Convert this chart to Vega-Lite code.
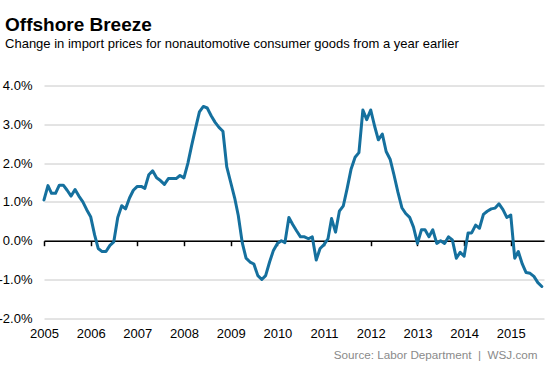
{
  "$schema": "https://vega.github.io/schema/vega-lite/v6.json",
  "width": 500,
  "height": 232.8,
  "autosize": {"type": "none"},
  "padding": {"left": 44, "top": 85.5, "right": 9, "bottom": 50.7},
  "background": "white",
  "title": {
    "text": "Offshore Breeze",
    "subtitle": "Change in import prices for nonautomotive consumer goods from a year earlier",
    "anchor": "start",
    "frame": "bounds",
    "font": "Liberation Sans",
    "fontSize": 19,
    "fontWeight": "bold",
    "color": "#000000",
    "subtitleFont": "Liberation Sans",
    "subtitleFontSize": 13,
    "subtitleColor": "#000000",
    "subtitlePadding": 3,
    "offset": 29,
    "dx": 7
  },
  "config": {"view": {"stroke": null}},
  "data": {
    "values": [
      {"date": "2005-01-01", "v": 1.05}, {"date": "2005-02-01", "v": 1.42}, {"date": "2005-03-01", "v": 1.22}, {"date": "2005-04-01", "v": 1.22},
      {"date": "2005-05-01", "v": 1.43}, {"date": "2005-06-01", "v": 1.43}, {"date": "2005-07-01", "v": 1.3}, {"date": "2005-08-01", "v": 1.15},
      {"date": "2005-09-01", "v": 1.32}, {"date": "2005-10-01", "v": 1.15}, {"date": "2005-11-01", "v": 1.0}, {"date": "2005-12-01", "v": 0.8},
      {"date": "2006-01-01", "v": 0.62}, {"date": "2006-02-01", "v": 0.15}, {"date": "2006-03-01", "v": -0.2}, {"date": "2006-04-01", "v": -0.28},
      {"date": "2006-05-01", "v": -0.28}, {"date": "2006-06-01", "v": -0.12}, {"date": "2006-07-01", "v": -0.03}, {"date": "2006-08-01", "v": 0.6},
      {"date": "2006-09-01", "v": 0.9}, {"date": "2006-10-01", "v": 0.82}, {"date": "2006-11-01", "v": 1.1}, {"date": "2006-12-01", "v": 1.3},
      {"date": "2007-01-01", "v": 1.4}, {"date": "2007-02-01", "v": 1.4}, {"date": "2007-03-01", "v": 1.35}, {"date": "2007-04-01", "v": 1.7},
      {"date": "2007-05-01", "v": 1.8}, {"date": "2007-06-01", "v": 1.62}, {"date": "2007-07-01", "v": 1.55}, {"date": "2007-08-01", "v": 1.45},
      {"date": "2007-09-01", "v": 1.6}, {"date": "2007-10-01", "v": 1.6}, {"date": "2007-11-01", "v": 1.6}, {"date": "2007-12-01", "v": 1.68},
      {"date": "2008-01-01", "v": 1.62}, {"date": "2008-02-01", "v": 2.0}, {"date": "2008-03-01", "v": 2.45}, {"date": "2008-04-01", "v": 2.9},
      {"date": "2008-05-01", "v": 3.32}, {"date": "2008-06-01", "v": 3.46}, {"date": "2008-07-01", "v": 3.42}, {"date": "2008-08-01", "v": 3.22},
      {"date": "2008-09-01", "v": 3.05}, {"date": "2008-10-01", "v": 2.92}, {"date": "2008-11-01", "v": 2.82}, {"date": "2008-12-01", "v": 1.9},
      {"date": "2009-01-01", "v": 1.5}, {"date": "2009-02-01", "v": 1.1}, {"date": "2009-03-01", "v": 0.65}, {"date": "2009-04-01", "v": -0.05},
      {"date": "2009-05-01", "v": -0.45}, {"date": "2009-06-01", "v": -0.55}, {"date": "2009-07-01", "v": -0.6}, {"date": "2009-08-01", "v": -0.9},
      {"date": "2009-09-01", "v": -1.0}, {"date": "2009-10-01", "v": -0.9}, {"date": "2009-11-01", "v": -0.55}, {"date": "2009-12-01", "v": -0.25},
      {"date": "2010-01-01", "v": -0.07}, {"date": "2010-02-01", "v": 0.0}, {"date": "2010-03-01", "v": -0.05}, {"date": "2010-04-01", "v": 0.6},
      {"date": "2010-05-01", "v": 0.42}, {"date": "2010-06-01", "v": 0.25}, {"date": "2010-07-01", "v": 0.1}, {"date": "2010-08-01", "v": 0.1},
      {"date": "2010-09-01", "v": 0.05}, {"date": "2010-10-01", "v": 0.1}, {"date": "2010-11-01", "v": -0.5}, {"date": "2010-12-01", "v": -0.2},
      {"date": "2011-01-01", "v": -0.1}, {"date": "2011-02-01", "v": 0.05}, {"date": "2011-03-01", "v": 0.57}, {"date": "2011-04-01", "v": 0.22},
      {"date": "2011-05-01", "v": 0.76}, {"date": "2011-06-01", "v": 0.9}, {"date": "2011-07-01", "v": 1.35}, {"date": "2011-08-01", "v": 1.85},
      {"date": "2011-09-01", "v": 2.15}, {"date": "2011-10-01", "v": 2.27}, {"date": "2011-11-01", "v": 3.37}, {"date": "2011-12-01", "v": 3.12},
      {"date": "2012-01-01", "v": 3.37}, {"date": "2012-02-01", "v": 2.95}, {"date": "2012-03-01", "v": 2.6}, {"date": "2012-04-01", "v": 2.75},
      {"date": "2012-05-01", "v": 2.3}, {"date": "2012-06-01", "v": 2.1}, {"date": "2012-07-01", "v": 1.7}, {"date": "2012-08-01", "v": 1.25},
      {"date": "2012-09-01", "v": 0.85}, {"date": "2012-10-01", "v": 0.7}, {"date": "2012-11-01", "v": 0.6}, {"date": "2012-12-01", "v": 0.35},
      {"date": "2013-01-01", "v": -0.07}, {"date": "2013-02-01", "v": 0.28}, {"date": "2013-03-01", "v": 0.28}, {"date": "2013-04-01", "v": 0.1},
      {"date": "2013-05-01", "v": 0.28}, {"date": "2013-06-01", "v": -0.07}, {"date": "2013-07-01", "v": 0.0}, {"date": "2013-08-01", "v": -0.07},
      {"date": "2013-09-01", "v": 0.1}, {"date": "2013-10-01", "v": 0.02}, {"date": "2013-11-01", "v": -0.45}, {"date": "2013-12-01", "v": -0.3},
      {"date": "2014-01-01", "v": -0.4}, {"date": "2014-02-01", "v": 0.2}, {"date": "2014-03-01", "v": 0.2}, {"date": "2014-04-01", "v": 0.4},
      {"date": "2014-05-01", "v": 0.32}, {"date": "2014-06-01", "v": 0.68}, {"date": "2014-07-01", "v": 0.76}, {"date": "2014-08-01", "v": 0.82},
      {"date": "2014-09-01", "v": 0.84}, {"date": "2014-10-01", "v": 0.95}, {"date": "2014-11-01", "v": 0.8}, {"date": "2014-12-01", "v": 0.6},
      {"date": "2015-01-01", "v": 0.66}, {"date": "2015-02-01", "v": -0.45}, {"date": "2015-03-01", "v": -0.28}, {"date": "2015-04-01", "v": -0.6},
      {"date": "2015-05-01", "v": -0.82}, {"date": "2015-06-01", "v": -0.84}, {"date": "2015-07-01", "v": -0.92}, {"date": "2015-08-01", "v": -1.08},
      {"date": "2015-09-01", "v": -1.18}
    ]
  },
  "mark": {"type": "line", "color": "#15709e", "strokeWidth": 3, "strokeJoin": "round", "strokeCap": "round"},
  "encoding": {
    "x": {
      "field": "date",
      "type": "temporal",
      "scale": {
        "type": "utc",
        "domain": [{"year": 2005, "month": 1, "date": 1, "utc": true}, {"year": 2015, "month": 9, "date": 18, "utc": true}]
      },
      "axis": {
        "orient": "bottom",
        "offset": -77.6,
        "values": [
          {"year": 2005, "month": 1, "date": 1, "utc": true}, {"year": 2006, "month": 1, "date": 1, "utc": true},
          {"year": 2007, "month": 1, "date": 1, "utc": true}, {"year": 2008, "month": 1, "date": 1, "utc": true},
          {"year": 2009, "month": 1, "date": 1, "utc": true}, {"year": 2010, "month": 1, "date": 1, "utc": true},
          {"year": 2011, "month": 1, "date": 1, "utc": true}, {"year": 2012, "month": 1, "date": 1, "utc": true},
          {"year": 2013, "month": 1, "date": 1, "utc": true}, {"year": 2014, "month": 1, "date": 1, "utc": true},
          {"year": 2015, "month": 1, "date": 1, "utc": true}
        ],
        "format": "%Y",
        "grid": false,
        "domainColor": "#000000",
        "domainWidth": 1.5,
        "tickColor": "#000000",
        "tickSize": 5,
        "tickWidth": 1.5,
        "labelPadding": 82,
        "labelFont": "Liberation Sans",
        "labelFontSize": 13,
        "labelColor": "#000000",
        "labelFlush": false,
        "labelOverlap": false,
        "title": "Source: Labor Department\u00a0\u00a0|\u00a0\u00a0WSJ.com",
        "titleFont": "Liberation Sans",
        "titleFontSize": 11.7,
        "titleFontWeight": "normal",
        "titleColor": "#8a8a8a",
        "titleAnchor": "end",
        "titleAlign": "right",
        "titleBaseline": "alphabetic",
        "titleX": 493,
        "titleY": 117.5,
        "zindex": 0
      }
    },
    "y": {
      "field": "v",
      "type": "quantitative",
      "scale": {"domain": [-2, 4], "nice": false, "zero": false},
      "axis": {
        "values": [-2, -1, 0, 1, 2, 3, 4],
        "labelExpr": "(datum.value < 0 ? '-' : '') + format(abs(datum.value), '.1f') + '%'",
        "domain": false,
        "ticks": false,
        "grid": true,
        "gridColor": "#c8c8c8",
        "gridWidth": 1,
        "labelPadding": 12,
        "labelFont": "Liberation Sans",
        "labelFontSize": 13,
        "labelColor": "#000000",
        "title": null,
        "zindex": 0
      }
    }
  }
}
